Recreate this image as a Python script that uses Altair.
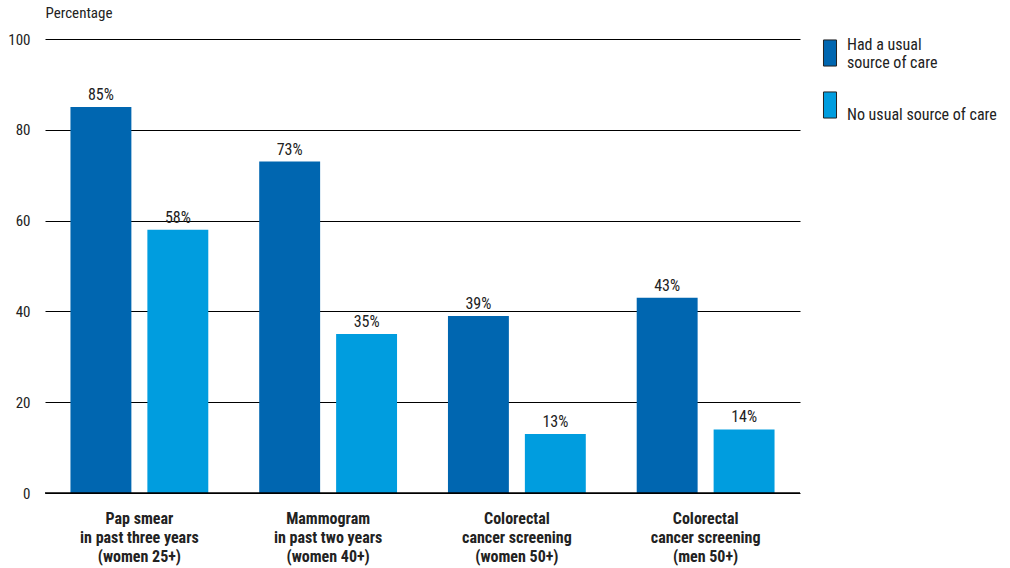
import altair as alt
import pandas as pd

categories = [
    "Pap smear\nin past three years\n(women 25+)",
    "Mammogram\nin past two years\n(women 40+)",
    "Colorectal\ncancer screening\n(women 50+)",
    "Colorectal\ncancer screening\n(men 50+)",
]
series = ["Had a usual\nsource of care", "No usual source of care"]
had_usual = [85, 73, 39, 43]
no_usual = [58, 35, 13, 14]
colors = ["#0066b0", "#009ddf"]

rows = []
for i, c in enumerate(categories):
    rows.append({"cat": c, "ser": series[0], "order": 0, "val": had_usual[i]})
    rows.append({"cat": c, "ser": series[1], "order": 1, "val": no_usual[i]})
df = pd.DataFrame(rows)
df["lab"] = df["val"].astype(str) + "%"

FONT = "Liberation Sans Narrow, Roboto Condensed, DejaVu Sans Condensed, Arial Narrow, sans-serif"
FS = 15

x = alt.X("cat:N", sort=categories,
          scale=alt.Scale(paddingInner=0, paddingOuter=0),
          axis=alt.Axis(title=None, labelAngle=0, ticks=False, domain=False,
                        labelFontWeight="bold", labelFontSize=16, labelColor="#222",
                        labelPadding=17, labelLineHeight=19, labelFont=FONT,
                        labelExpr="split(datum.label, '\\n')"))
xo = alt.XOffset("ser:N", sort=series,
                 scale=alt.Scale(paddingInner=0.208, paddingOuter=0.331))
y = alt.Y("val:Q", scale=alt.Scale(domain=[0, 100]),
          axis=alt.Axis(values=[0, 20, 40, 60, 80, 100], ticks=False, domain=False,
                        gridColor="#000", gridWidth=1, gridOpacity=1,
                        labelFontSize=FS, labelColor="#222", labelPadding=15, labelFont=FONT,
                        title="Percentage", titleAngle=0, titleAlign="left",
                        titleBaseline="middle", titleX=0, titleY=-27,
                        titleFontWeight="normal", titleFontSize=FS, titleColor="#222",
                        titleFont=FONT))

legend_expr = ("indexof(datum.label, '\\n') >= 0 ? split(datum.label, '\\n') : ['', datum.label]")

bars = alt.Chart(df).mark_bar().encode(
    x=x, xOffset=xo, y=y,
    color=alt.Color("ser:N", sort=series,
                    scale=alt.Scale(domain=series, range=colors),
                    legend=alt.Legend(title=None, orient="none", legendX=771, legendY=0,
                                      symbolType="M-0.5,-1L0.5,-1L0.5,1L-0.5,1Z",
                                      symbolSize=680, symbolStrokeColor="#222",
                                      symbolStrokeWidth=1, symbolOpacity=1,
                                      labelFontSize=16, labelColor="#222", labelFont=FONT,
                                      labelOffset=3, labelBaseline="bottom",
                                      rowPadding=18, labelLimit=300,
                                      labelExpr=legend_expr)),
)

text = alt.Chart(df).mark_text(dy=-12, fontSize=16, color="#222", font=FONT).encode(
    x=alt.X("cat:N", sort=categories), xOffset=alt.XOffset("ser:N", sort=series),
    y="val:Q", text="lab:N")

base_rule = alt.Chart(pd.DataFrame({"v": [0]})).mark_rule(color="#000", strokeWidth=1.5).encode(
    y="v:Q")

chart = alt.layer(bars, text, base_rule).properties(
    width=755, height=454,
    padding={"left": 45, "top": 39, "right": 210, "bottom": 75},
    autosize=alt.AutoSizeParams(type="none"),
).configure_view(stroke=None).configure_axisX(grid=False)

chart.save("out.html", embed_options={"renderer": "svg", "actions": False})
